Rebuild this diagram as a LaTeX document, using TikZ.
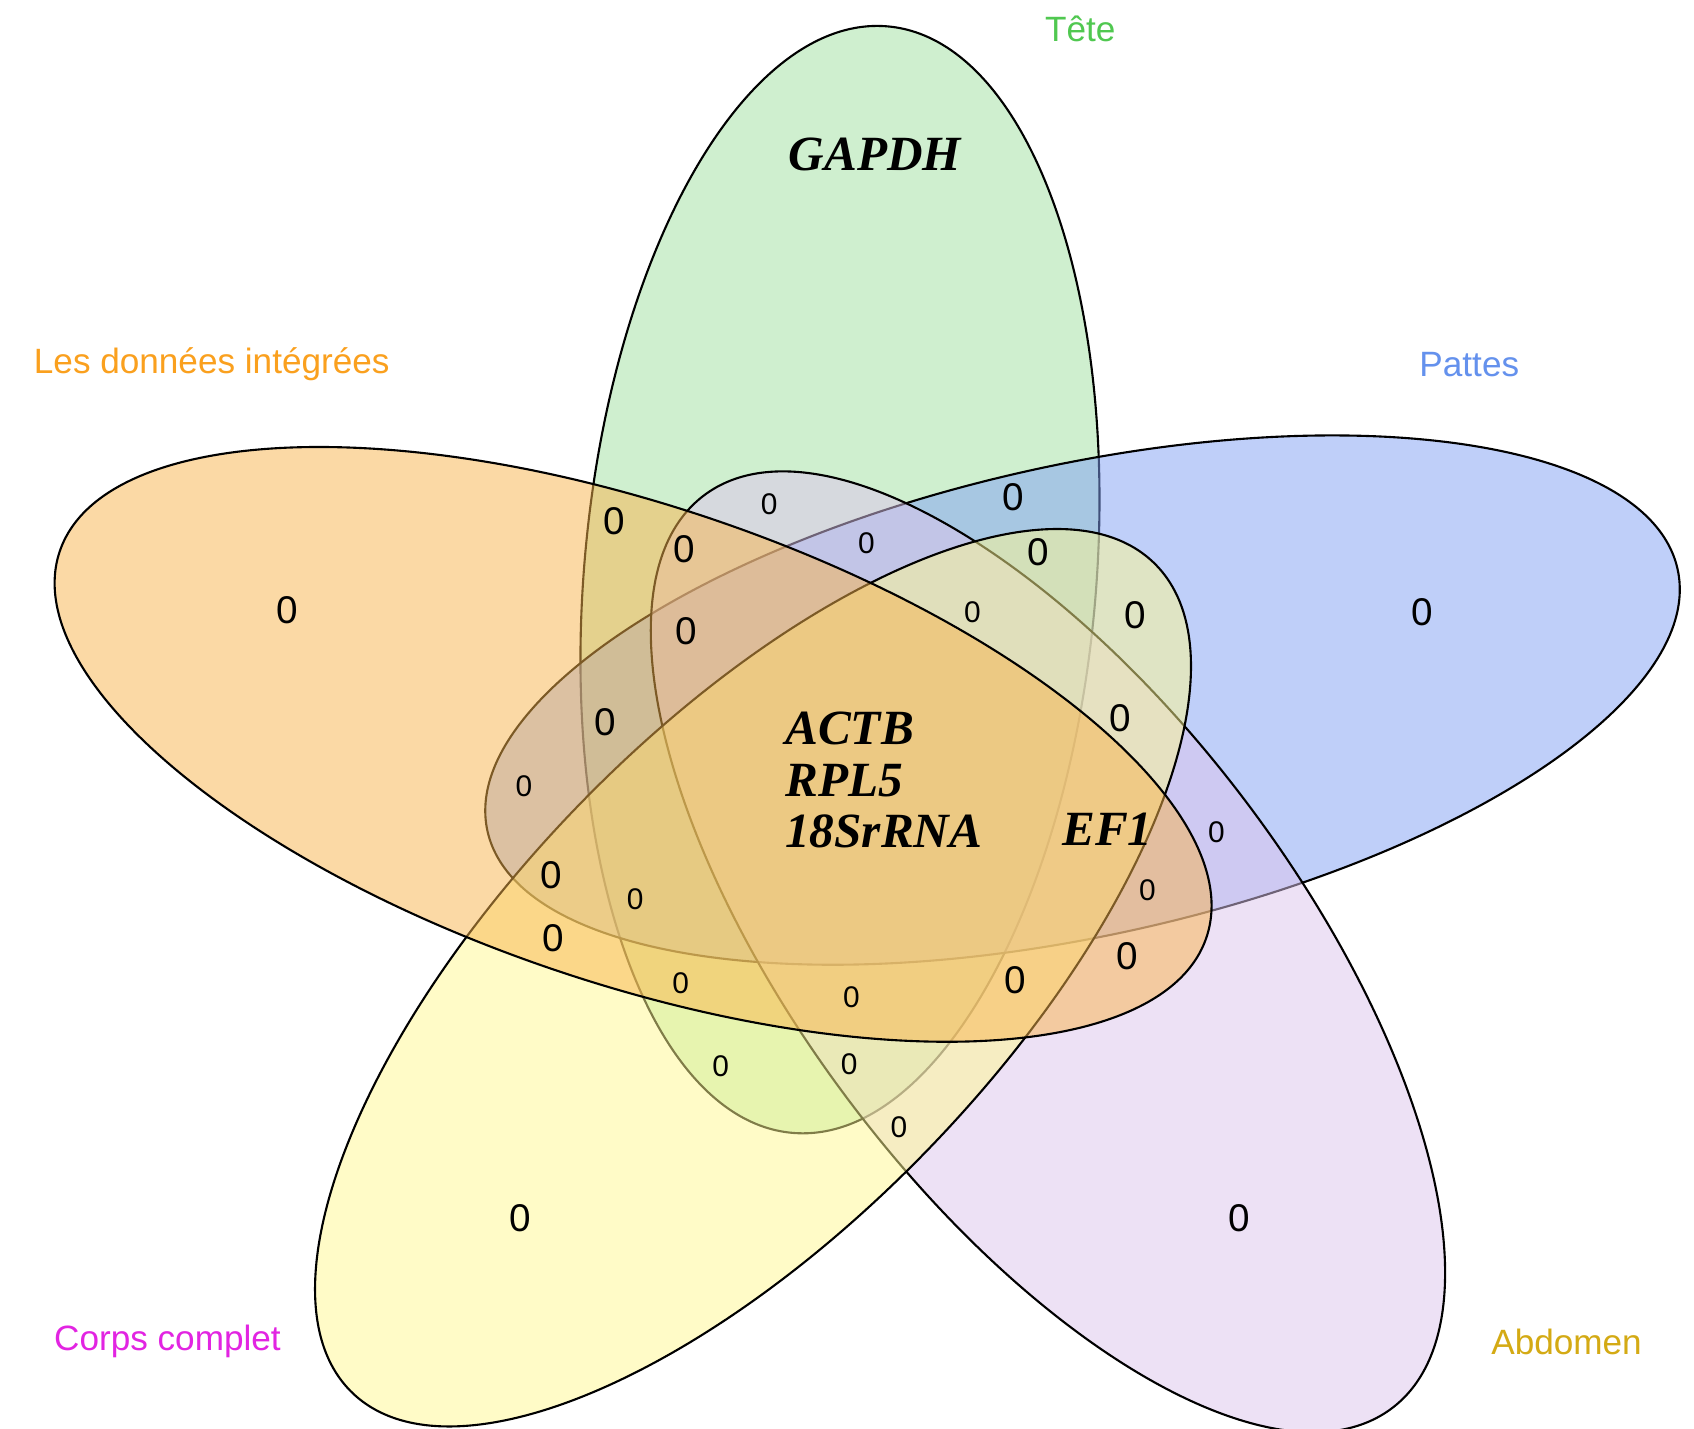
\documentclass[tikz,border=0pt]{standalone}
\usepackage{fontspec}
\setmainfont{Liberation Serif}
\setsansfont{Liberation Sans}
\usepackage{tikz}

% fills (used at half opacity)
\definecolor{teteF}{RGB}{161,225,161}
\definecolor{pattesF}{RGB}{129,161,245}
\definecolor{abdoF}{RGB}{221,197,237}
\definecolor{corpsF}{RGB}{255,249,145}
\definecolor{donneesF}{RGB}{249,181,77}
% label colours
\definecolor{teteT}{RGB}{80,200,80}
\definecolor{pattesT}{RGB}{100,145,237}
\definecolor{donneesT}{RGB}{250,160,30}
\definecolor{corpsT}{RGB}{226,36,226}
\definecolor{abdoT}{RGB}{212,170,20}

\begin{document}
\begin{tikzpicture}[x=0.010804cm,y=-0.010804cm,
    setfill/.style={fill=#1,fill opacity=0.5,draw=black,line width=0.6pt},
    setname/.style={font=\sffamily\fontsize{10}{12}\selectfont},
    gene/.style={font=\fontsize{14}{14.7}\selectfont\bfseries\itshape},
    zbig/.style={font=\sffamily\fontsize{11}{11}\selectfont},
    zsmall/.style={font=\sffamily\fontsize{8.5}{8.5}\selectfont}]
        \path[use as bounding box, fill=white] (0,0) rectangle (1568,1322);
        % the five sets
        \draw[setfill=teteF, rotate around={85.1:(777.5,536.5)}] (777.5,536.5) ellipse [x radius=514, y radius=237];
        \draw[setfill=pattesF, rotate around={12.4:(1002,648)}] (1002,648) ellipse [x radius=564, y radius=218];
        \draw[setfill=abdoF, rotate around={-53:(970,881)}] (970,881) ellipse [x radius=529, y radius=230];
        \draw[setfill=corpsF, rotate around={46:(697,905)}] (697,905) ellipse [x radius=534, y radius=227];
        \draw[setfill=donneesF, rotate around={-18.6:(586,689)}] (586,689) ellipse [x radius=560, y radius=221];
        % set names
        \node[setname, text=teteT] (tete) at (1000,27) {Tête};
        \node[setname, text=pattesT] (pattes) at (1360,337) {Pattes};
        \node[setname, text=donneesT] (donnees) at (196,337) {Les données intégrées};
        \node[setname, text=corpsT] (corps) at (155,1242) {Corps complet};
        \node[setname, text=abdoT] (abdomen) at (1450,1242) {Abdomen};
        % genes
        \node[gene] (gapdh) at (810,143) {GAPDH};
        \node[gene, align=left] (core) at (818,722) {ACTB\\RPL5\\18SrRNA};
        \node[gene] (ef1) at (1025,768) {EF1};
        % empty regions
        \foreach \zx/\zy [count=\k] in {266/565, 1316/567, 482/1128, 1147/1128,
            569/482, 633/508, 938/460, 961/511, 1051/569, 635/584, 560/668,
            1037/665, 510/810, 512/868, 1043/885, 940/907}
          \node[zbig] (zb\k) at (\zx,\zy) {0};
        \foreach \zx/\zy [count=\k] in {712/467, 802/503, 900/567, 485/728,
            1126/770, 588/832, 1062/824, 630/910, 788/923, 667/987, 786/985, 832/1043}
          \node[zsmall] (zs\k) at (\zx,\zy) {0};
\end{tikzpicture}
\end{document}
